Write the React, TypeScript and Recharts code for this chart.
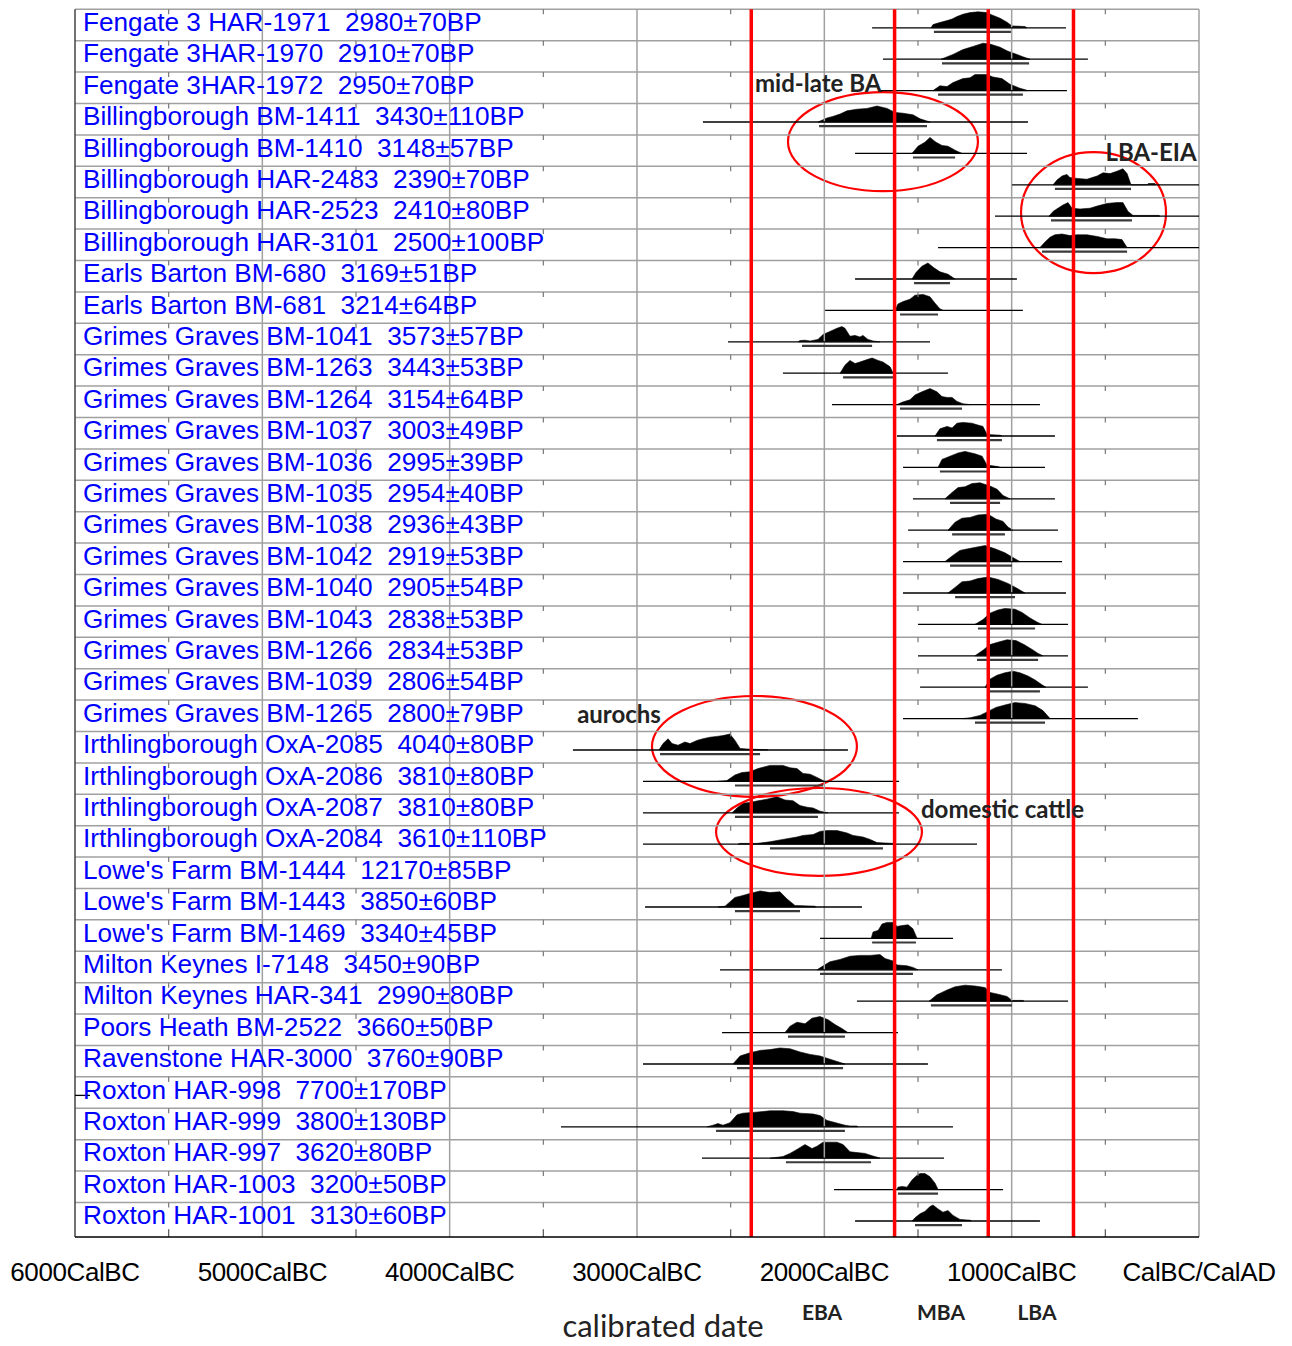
import React from 'react';
import {
  ComposedChart,
  Area,
  Scatter,
  XAxis,
  YAxis,
  ReferenceLine,
  ReferenceArea,
  ReferenceDot,
} from 'recharts';

// one row per sample, top to bottom
const labels = [
  'Fengate 3 HAR-1971  2980±70BP',
  'Fengate 3HAR-1970  2910±70BP',
  'Fengate 3HAR-1972  2950±70BP',
  'Billingborough BM-1411  3430±110BP',
  'Billingborough BM-1410  3148±57BP',
  'Billingborough HAR-2483  2390±70BP',
  'Billingborough HAR-2523  2410±80BP',
  'Billingborough HAR-3101  2500±100BP',
  'Earls Barton BM-680  3169±51BP',
  'Earls Barton BM-681  3214±64BP',
  'Grimes Graves BM-1041  3573±57BP',
  'Grimes Graves BM-1263  3443±53BP',
  'Grimes Graves BM-1264  3154±64BP',
  'Grimes Graves BM-1037  3003±49BP',
  'Grimes Graves BM-1036  2995±39BP',
  'Grimes Graves BM-1035  2954±40BP',
  'Grimes Graves BM-1038  2936±43BP',
  'Grimes Graves BM-1042  2919±53BP',
  'Grimes Graves BM-1040  2905±54BP',
  'Grimes Graves BM-1043  2838±53BP',
  'Grimes Graves BM-1266  2834±53BP',
  'Grimes Graves BM-1039  2806±54BP',
  'Grimes Graves BM-1265  2800±79BP',
  'Irthlingborough OxA-2085  4040±80BP',
  'Irthlingborough OxA-2086  3810±80BP',
  'Irthlingborough OxA-2087  3810±80BP',
  'Irthlingborough OxA-2084  3610±110BP',
  "Lowe's Farm BM-1444  12170±85BP",
  "Lowe's Farm BM-1443  3850±60BP",
  "Lowe's Farm BM-1469  3340±45BP",
  'Milton Keynes I-7148  3450±90BP',
  'Milton Keynes HAR-341  2990±80BP',
  'Poors Heath BM-2522  3660±50BP',
  'Ravenstone HAR-3000  3760±90BP',
  'Roxton HAR-998  7700±170BP',
  'Roxton HAR-999  3800±130BP',
  'Roxton HAR-997  3620±80BP',
  'Roxton HAR-1003  3200±50BP',
  'Roxton HAR-1001  3130±60BP',
];

// full span of each likelihood (thin line), cal BC as negative years; null = off the scale
const lineFrom = [
  -1745, -1687, -1703, -2648, -1836, -998, -1089, -1393, -1836, -1996,
  -2514, -2221, -1959, -1612, -1580, -1527, -1553, -1580, -1580, -1500,
  -1500, -1489, -1580, -3342, -2968, -2968, -2968, null, -2957, -2023,
  -2557, -1826, -2546, -2968, -6000, -3406, -2653, -1948, -1836,
];
const lineTo = [
  -710, -593, -705, -913, -918, 0, 0, 0, -972, -940,
  -1436, -1340, -849, -769, -822, -769, -753, -731, -710, -699,
  -699, -593, -326, -1874, -1601, -1601, -1185, null, -1799, -1313,
  -1052, -699, -1607, -1447, -5920, -1313, -1361, -1046, -849,
];

// 95.4% range (thicker line under each distribution)
const rangeFrom = [
  -1415, -1372, -1393, -2028, -1527, -769, -790, -838, -1521, -1596,
  -2119, -1900, -1596, -1399, -1383, -1329, -1318, -1329, -1302, -1180,
  -1185, -1116, -1196, -2877, -2477, -2477, -2290, null, -2477, -1745,
  -2023, -1431, -2194, -2466, null, -2578, -2205, -1607, -1516,
];
const rangeTo = [
  -1004, -907, -940, -1452, -1302, -363, -358, -384, -1329, -1393,
  -1745, -1633, -1265, -1052, -1116, -1062, -1036, -998, -982, -875,
  -859, -849, -822, -2343, -2007, -2034, -1687, null, -2130, -1511,
  -1527, -998, -1890, -1900, null, -1890, -1751, -1393, -1265,
];

// probability distributions: [year, relative probability]
const densities: number[][][] = [
  [[-1431,0],[-1420,0.2],[-1393,0.3],[-1345,0.45],[-1318,0.55],[-1292,0.7],[-1260,0.85],[-1222,0.95],[-1180,1],[-1132,0.95],[-1105,0.8],[-1062,0.6],[-1025,0.35],[-998,0.12],[-929,0.08],[-918,0]],
  [[-1377,0],[-1313,0.3],[-1260,0.6],[-1206,0.8],[-1153,1],[-1116,0.95],[-1062,0.75],[-1020,0.5],[-972,0.3],[-940,0.15],[-902,0]],
  [[-1420,0],[-1383,0.3],[-1345,0.25],[-1313,0.5],[-1260,0.75],[-1222,0.8],[-1196,1],[-1132,1],[-1100,0.85],[-1052,0.75],[-1009,0.4],[-956,0.15],[-913,0]],
  [[-2034,0],[-1986,0.25],[-1954,0.35],[-1916,0.5],[-1879,0.7],[-1826,0.8],[-1772,0.85],[-1719,1],[-1665,0.85],[-1623,0.6],[-1580,0.55],[-1527,0.45],[-1489,0.2],[-1436,0]],
  [[-1532,0],[-1500,0.45],[-1463,0.7],[-1436,1],[-1404,0.7],[-1372,0.5],[-1340,0.45],[-1302,0.2],[-1265,0]],
  [[-779,0],[-758,0.3],[-731,0.55],[-705,0.65],[-689,0.45],[-651,0.4],[-598,0.35],[-544,0.55],[-512,0.75],[-475,0.7],[-438,0.85],[-406,1],[-384,0.7],[-363,0],[-278,0],[-270,0.08],[-235,0.08],[-230,0]],
  [[-801,0],[-779,0.3],[-753,0.5],[-726,0.7],[-699,0.85],[-678,0.5],[-635,0.45],[-582,0.5],[-539,0.65],[-491,0.8],[-438,0.85],[-406,0.85],[-379,0.3],[-352,0.05],[-304,0.05],[-214,0.05],[-208,0]],
  [[-849,0],[-822,0.35],[-795,0.65],[-769,0.8],[-731,0.85],[-689,0.75],[-651,0.8],[-598,0.8],[-544,0.7],[-491,0.55],[-448,0.55],[-411,0.5],[-384,0]],
  [[-1532,0],[-1511,0.4],[-1479,0.8],[-1447,1],[-1415,0.7],[-1383,0.45],[-1340,0.3],[-1302,0]],
  [[-1623,0],[-1607,0.4],[-1580,0.55],[-1543,0.7],[-1516,0.95],[-1473,1],[-1436,0.85],[-1409,0.45],[-1383,0.1],[-1366,0]],
  [[-2140,0],[-2130,0.08],[-2103,0.1],[-2076,0.05],[-2034,0.15],[-2007,0.45],[-1970,0.65],[-1932,0.85],[-1906,0.95],[-1890,0.85],[-1863,0.35],[-1836,0.4],[-1810,0.3],[-1794,0.4],[-1767,0.15],[-1740,0.05],[-1703,0]],
  [[-1916,0],[-1890,0.5],[-1863,0.8],[-1836,0.6],[-1810,0.7],[-1772,0.85],[-1745,0.95],[-1713,0.8],[-1687,0.7],[-1649,0.4],[-1633,0]],
  [[-1612,0],[-1585,0.15],[-1543,0.3],[-1516,0.6],[-1479,0.8],[-1436,1],[-1399,0.8],[-1372,0.5],[-1345,0.45],[-1318,0.45],[-1292,0.2],[-1260,0.05],[-1222,0]],
  [[-1409,0],[-1383,0.45],[-1345,0.6],[-1318,0.5],[-1292,0.8],[-1260,0.85],[-1212,0.8],[-1185,0.7],[-1153,0.6],[-1132,0.1],[-1062,0.05],[-1052,0]],
  [[-1393,0],[-1372,0.5],[-1329,0.7],[-1286,0.9],[-1249,1],[-1196,0.85],[-1158,0.7],[-1132,0.15],[-1073,0.05],[-1062,0]],
  [[-1356,0],[-1318,0.4],[-1286,0.7],[-1249,0.75],[-1212,0.95],[-1169,1],[-1116,0.8],[-1078,0.6],[-1046,0.2],[-1009,0]],
  [[-1340,0],[-1302,0.5],[-1265,0.75],[-1222,0.8],[-1180,0.95],[-1126,1],[-1084,0.7],[-1046,0.55],[-1020,0.2],[-993,0]],
  [[-1356,0],[-1318,0.35],[-1276,0.7],[-1233,0.8],[-1190,0.9],[-1142,1],[-1089,0.8],[-1036,0.55],[-993,0.25],[-956,0]],
  [[-1340,0],[-1302,0.35],[-1265,0.7],[-1222,0.75],[-1180,0.9],[-1126,1],[-1073,0.85],[-1020,0.6],[-972,0.3],[-929,0]],
  [[-1196,0],[-1153,0.3],[-1116,0.7],[-1073,0.9],[-1036,1],[-982,0.95],[-945,0.75],[-902,0.4],[-865,0.15],[-838,0]],
  [[-1196,0],[-1153,0.35],[-1116,0.7],[-1073,0.85],[-1025,1],[-977,0.95],[-934,0.7],[-891,0.4],[-859,0.15],[-833,0]],
  [[-1142,0],[-1116,0.5],[-1078,0.75],[-1036,0.9],[-993,1],[-956,0.9],[-913,0.7],[-875,0.45],[-838,0.15],[-817,0]],
  [[-1265,0],[-1222,0.05],[-1169,0.2],[-1126,0.45],[-1084,0.7],[-1036,0.85],[-982,1],[-929,0.95],[-875,0.8],[-833,0.5],[-795,0]],
  [[-2883,0],[-2861,0.4],[-2834,0.7],[-2813,0.4],[-2781,0.3],[-2744,0.5],[-2717,0.4],[-2680,0.6],[-2648,0.7],[-2610,0.8],[-2573,0.85],[-2541,0.9],[-2504,1],[-2477,0.6],[-2450,0.1],[-2397,0.05],[-2306,0.02],[-2300,0]],
  [[-2568,0],[-2520,0.05],[-2477,0.4],[-2440,0.55],[-2397,0.6],[-2354,0.8],[-2290,1],[-2221,1],[-2183,0.85],[-2146,0.8],[-2114,0.5],[-2076,0.45],[-2039,0.25],[-2007,0.05],[-1996,0]],
  [[-2493,0],[-2466,0.3],[-2434,0.6],[-2397,0.65],[-2354,0.75],[-2306,0.85],[-2253,1],[-2210,0.8],[-2167,0.75],[-2130,0.45],[-2092,0.35],[-2060,0.3],[-2023,0.1],[-1980,0]],
  [[-2461,0],[-2450,0.05],[-2397,0.05],[-2360,0.05],[-2290,0.15],[-2221,0.3],[-2146,0.45],[-2114,0.55],[-2060,0.6],[-2023,0.8],[-1986,0.85],[-1932,0.85],[-1879,0.7],[-1847,0.55],[-1794,0.45],[-1756,0.3],[-1719,0.1],[-1633,0.05],[-1628,0]],
  [],
  [[-2568,0],[-2530,0.05],[-2477,0.6],[-2440,0.7],[-2397,0.85],[-2343,1],[-2290,0.9],[-2237,0.95],[-2199,0.5],[-2157,0.1],[-2050,0.05],[-2045,0]],
  [[-1750,0],[-1740,0.4],[-1713,0.5],[-1692,0.9],[-1665,1],[-1633,1],[-1612,0.75],[-1585,0.8],[-1553,0.85],[-1527,0.6],[-1505,0]],
  [[-2039,0],[-2012,0.2],[-1970,0.5],[-1916,0.65],[-1863,0.85],[-1810,0.9],[-1756,0.9],[-1703,0.95],[-1676,0.7],[-1633,0.55],[-1612,0.3],[-1559,0.25],[-1527,0.15],[-1500,0]],
  [[-1441,0],[-1399,0.4],[-1372,0.55],[-1345,0.7],[-1302,0.9],[-1249,1],[-1196,0.95],[-1142,0.85],[-1116,0.55],[-1078,0.45],[-1025,0.3],[-998,0.05],[-940,0.05],[-934,0]],
  [[-2210,0],[-2183,0.4],[-2146,0.65],[-2103,0.55],[-2066,0.9],[-2023,1],[-1980,0.8],[-1943,0.5],[-1906,0.25],[-1874,0]],
  [[-2488,0],[-2450,0.5],[-2397,0.7],[-2343,0.85],[-2290,0.9],[-2237,1],[-2183,0.95],[-2130,0.75],[-2076,0.6],[-2023,0.5],[-1970,0.3],[-1916,0.1],[-1890,0]],
  [],
  [[-2626,0],[-2594,0.1],[-2568,0.2],[-2541,0.1],[-2504,0.25],[-2466,0.75],[-2434,0.85],[-2381,0.9],[-2327,0.95],[-2290,1],[-2221,1],[-2167,0.95],[-2130,0.85],[-2060,0.8],[-2023,0.7],[-1986,0.4],[-1954,0.3],[-1890,0.1],[-1863,0.05],[-1826,0.05],[-1820,0]],
  [[-2290,0],[-2221,0.1],[-2183,0.3],[-2146,0.55],[-2103,0.85],[-2066,0.6],[-2039,0.75],[-2007,1],[-1932,1],[-1900,0.85],[-1863,0.4],[-1826,0.35],[-1783,0.3],[-1745,0.15],[-1713,0.05],[-1703,0]],
  [[-1612,0],[-1607,0.15],[-1585,0.2],[-1559,0.15],[-1532,0.6],[-1505,0.9],[-1489,1],[-1463,1],[-1436,0.8],[-1409,0.4],[-1393,0]],
  [[-1532,0],[-1516,0.2],[-1489,0.45],[-1463,0.6],[-1436,0.9],[-1420,1],[-1393,0.75],[-1367,0.55],[-1340,0.65],[-1313,0.35],[-1276,0.1],[-1222,0.05],[-1215,0]],
];

// period boundaries (red lines) and names
const periodBounds = [-2390, -1625, -1125, -670];
const periodNames = ['EBA', 'MBA', 'LBA'];
const periodNameAt = [-2012, -1377, -865];

const majorTicks = [-6000, -5000, -4000, -3000, -2000, -1000, 0];
const minorTicks = [-5500, -4500, -3500, -2500, -1500, -500];

// hand annotations: text and red ellipses (year / row coordinates)
const notes = [
  { text: 'mid-late BA', x: -2033, y: 2.63 },
  { text: 'LBA-EIA', x: -256, y: 4.82 },
  { text: 'aurochs', x: -3096, y: 22.72 },
  { text: 'domestic cattle', x: -1049, y: 25.75 },
];
const rings = [
  { x1: -2194, x2: -1180, y1: 2.64, y2: 5.79 },
  { x1: -950, x2: -176, y1: 4.55, y2: 8.4 },
  { x1: -2920, x2: -1826, y1: 21.87, y2: 25.08 },
  { x1: -2578, x2: -1479, y1: 24.8, y2: 27.6 },
];

const ROWS = 39.1;
const BASE = 0.59;
const BRACKET = 0.72;
const PEAK = 0.51;
const TEXT_BASE = 0.69;

const SANS = "'Liberation Sans', Arial, sans-serif";
const NOTE_FONT = "Lato, 'Open Sans', sans-serif";

const AxisTick = (props: any) => {
  const { x, y, payload } = props;
  const v = payload.value;
  const text = v === 0 ? 'CalBC/CalAD' : `${-v}CalBC`;
  return (
    <text x={x} y={y + 44} textAnchor="middle" fontSize={26} letterSpacing={-0.4} fontFamily={SANS} fill="#000">
      {text}
    </text>
  );
};

const rowIdx = labels.map((_, i) => i);
const gridRows = Array.from({ length: 39 }, (_, i) => i);

export default function App() {
  return (
    <div style={{ position: 'absolute', left: 8, top: 8, width: 1276, height: 1338, background: '#fff' }}>
      <ComposedChart width={1276} height={1338} margin={{ top: 1.3, right: 85, bottom: 49, left: 67 }}>
        <XAxis
          type="number"
          dataKey="x"
          domain={[-6000, 0]}
          ticks={majorTicks}
          interval={0}
          allowDataOverflow
          height={60}
          tickSize={0}
          tickMargin={0}
          tickLine={false}
          axisLine={{ stroke: '#000', strokeWidth: 1.5 }}
          tick={<AxisTick />}
        />
        <YAxis type="number" dataKey="y" domain={[0, ROWS]} reversed hide allowDataOverflow />

        {/* row separators and gridlines */}
        {gridRows.map((k) => (
          <ReferenceLine key={'h' + k} y={k} stroke="#a0a0a0" strokeWidth={1.5} />
        ))}
        {majorTicks.slice(1, -1).map((v) => (
          <ReferenceLine key={'v' + v} x={v} stroke="#a0a0a0" strokeWidth={1.5} />
        ))}
        <ReferenceLine x={-6000} stroke="#444" strokeWidth={1.5} />
        <ReferenceLine x={0} stroke="#a0a0a0" strokeWidth={1.5} />
        {gridRows.map((k) =>
          minorTicks.map((m) => (
            <ReferenceLine
              key={'t' + k + m}
              segment={[{ x: m, y: k }, { x: m, y: k + 0.16 }]}
              stroke="#777"
              strokeWidth={1.2}
            />
          ))
        )}
        {minorTicks.map((m) => (
          <ReferenceLine
            key={'b' + m}
            segment={[{ x: m, y: ROWS }, { x: m, y: ROWS - 0.25 }]}
            stroke="#555"
            strokeWidth={1.2}
          />
        ))}

        {/* likelihood spans */}
        {rowIdx.map((i) =>
          lineFrom[i] == null ? null : (
            <ReferenceLine
              key={'l' + i}
              segment={[{ x: lineFrom[i], y: i + BASE }, { x: lineTo[i], y: i + BASE }]}
              stroke="#000"
              strokeWidth={1.3}
            />
          )
        )}

        {/* distributions */}
        {densities.map((pts, i) =>
          pts.length === 0 ? null : (
            <Area
              key={'d' + i}
              data={pts.map(([yr, p]) => ({ x: yr, v: [i + BASE, i + BASE - PEAK * p] }))}
              dataKey="v"
              type="linear"
              fill="#000"
              fillOpacity={1}
              stroke="#000"
              strokeWidth={0.6}
              dot={false}
              activeDot={false}
              isAnimationActive={false}
            />
          )
        )}

        {/* 95% ranges */}
        {rowIdx.map((i) =>
          rangeFrom[i] == null ? null : (
            <ReferenceLine
              key={'r' + i}
              segment={[{ x: rangeFrom[i], y: i + BRACKET }, { x: rangeTo[i], y: i + BRACKET }]}
              stroke="#3a3a3a"
              strokeWidth={2.2}
            />
          )
        )}

        {periodBounds.map((v) => (
          <ReferenceLine key={'p' + v} x={v} stroke="#ff0000" strokeWidth={3.5} />
        ))}

        <Scatter
          data={labels.map((name, i) => ({ x: -6000, y: i + TEXT_BASE, name }))}
          isAnimationActive={false}
          shape={(p: any) => (
            <text
              x={p.cx + 8}
              y={p.cy}
              fontSize={26.2}
              fontFamily={SANS}
              fill="#0000ff"
              xmlSpace="preserve"
              style={{ whiteSpace: 'pre' }}
            >
              {p.payload.name}
            </text>
          )}
        />

        {rings.map((r, i) => (
          <ReferenceArea
            key={'e' + i}
            x1={r.x1}
            x2={r.x2}
            y1={r.y1}
            y2={r.y2}
            ifOverflow="visible"
            shape={(p: any) => (
              <ellipse
                cx={p.x + p.width / 2}
                cy={p.y + p.height / 2}
                rx={Math.abs(p.width / 2)}
                ry={Math.abs(p.height / 2)}
                fill="none"
                stroke="#ff0000"
                strokeWidth={2.2}
              />
            )}
          />
        ))}

        {notes.map((n) => (
          <ReferenceDot
            key={n.text}
            x={n.x}
            y={n.y}
            ifOverflow="visible"
            shape={(p: any) => (
              <text x={p.cx} y={p.cy} textAnchor="middle" fontSize={24} fontWeight={700} fontFamily={NOTE_FONT} fill="#222">
                {n.text}
              </text>
            )}
          />
        ))}

        {periodNames.map((name, i) => (
          <ReferenceDot
            key={name}
            x={periodNameAt[i]}
            y={41.74}
            ifOverflow="visible"
            shape={(p: any) => (
              <text x={p.cx} y={p.cy} textAnchor="middle" fontSize={21} fontWeight={700} fontFamily={NOTE_FONT} fill="#222">
                {name}
              </text>
            )}
          />
        ))}
        <ReferenceDot
          x={-2861}
          y={42.3}
          ifOverflow="visible"
          shape={(p: any) => (
            <text x={p.cx} y={p.cy} textAnchor="middle" fontSize={31} fontFamily={NOTE_FONT} fill="#222">
              calibrated date
            </text>
          )}
        />
      </ComposedChart>
    </div>
  );
}
